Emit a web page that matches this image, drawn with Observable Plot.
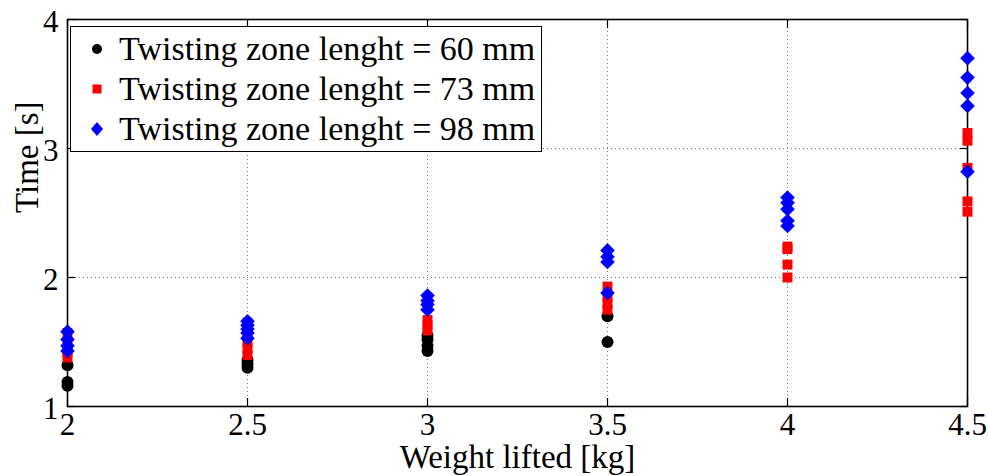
<!DOCTYPE html>
<html>
<head>
<meta charset="utf-8">
<script src="https://cdn.jsdelivr.net/npm/d3@7"></script>
<script src="https://cdn.jsdelivr.net/npm/@observablehq/plot@0.6"></script>
<style>
  html, body { margin: 0; padding: 0; background: white; }
  #wrap { position: relative; width: 988px; height: 476px; }
  #legend {
    position: absolute; left: 70px; top: 26px;
    background: white; border: 1px solid black;
    font-family: "Liberation Serif", "Times New Roman", serif;
    font-size: 34px; line-height: 40px; padding: 2px 6px 2px 0;
    box-sizing: border-box;
  }
  #legend .row { display: flex; align-items: center; white-space: nowrap; }
  #legend svg { width: 48px; height: 40px; flex: none; }
</style>
</head>
<body>
<div id="wrap"></div>
<script>
// ---- data ----
const seriesNames = ["Twisting zone lenght = 60 mm", "Twisting zone lenght = 73 mm", "Twisting zone lenght = 98 mm"];
const seriesColors = ["#000000", "#ff0000", "#0000ff"];
const seriesSymbols = ["circle", "square", "diamond2"];

const weights60 = [2, 2, 2, 2.5, 2.5, 2.5, 3, 3, 3, 3, 3.5, 3.5];
const times60   = [1.16, 1.19, 1.32, 1.30, 1.33, 1.36, 1.43, 1.47, 1.52, 1.55, 1.50, 1.70];

const weights73 = [2, 2, 2, 2, 2.5, 2.5, 2.5, 2.5, 2.5, 3, 3, 3, 3.5, 3.5, 3.5, 3.5, 4, 4, 4, 4, 4.5, 4.5, 4.5, 4.5, 4.5];
const times73   = [1.38, 1.42, 1.48, 1.57, 1.40, 1.45, 1.50, 1.55, 1.65, 1.59, 1.63, 1.67, 1.75, 1.80, 1.85, 1.93, 2.00, 2.10, 2.22, 2.24, 2.51, 2.59, 2.85, 3.06, 3.12];

const weights98 = [2, 2, 2, 2, 2.5, 2.5, 2.5, 2.5, 2.5, 3, 3, 3, 3, 3.5, 3.5, 3.5, 3.5, 4, 4, 4, 4, 4, 4.5, 4.5, 4.5, 4.5, 4.5];
const times98   = [1.43, 1.47, 1.52, 1.58, 1.53, 1.57, 1.60, 1.63, 1.66, 1.75, 1.79, 1.82, 1.86, 1.88, 2.12, 2.16, 2.21, 2.40, 2.44, 2.53, 2.58, 2.62, 2.82, 3.33, 3.43, 3.55, 3.70];

const xTicks = [2, 2.5, 3, 3.5, 4, 4.5];
const yTicks = [1, 2, 3, 4];
const xGrid = [2.5, 3, 3.5, 4];
const yGrid = [2, 3];
const xTitle = "Weight lifted [kg]";
const yTitle = "Time [s]";

// ---- build tables ----
const series = [[weights60, times60], [weights73, times73], [weights98, times98]].map(([ws, ts], s) =>
  ws.map((w, i) => ({series: seriesNames[s], w, t: ts[i]}))
);

const font = "Liberation Serif, Times New Roman, serif";
const radii = [6, 5.6, 6.6];

const chart = Plot.plot({
  width: 988, height: 476,
  marginLeft: 67, marginRight: 21, marginTop: 19, marginBottom: 70,
  style: {fontFamily: font, fontSize: "30px", background: "white", color: "black"},
  x: {domain: [2, 4.5]},
  y: {domain: [1, 4]},
  marks: [
    Plot.gridX(xGrid, {stroke: "#000", strokeOpacity: 0.55, strokeDasharray: "1,3", strokeWidth: 1}),
    Plot.gridY(yGrid, {stroke: "#000", strokeOpacity: 0.55, strokeDasharray: "1,3", strokeWidth: 1}),
    // inward ticks
    Plot.axisX(xTicks, {anchor: "bottom", tickSize: 8, dy: -8, text: null, label: null, stroke: "black", strokeWidth: 1.2}),
    Plot.axisX(xTicks, {anchor: "top", tickSize: 8, dy: 8, text: null, label: null, stroke: "black", strokeWidth: 1.2}),
    Plot.axisY(yTicks, {anchor: "left", tickSize: 8, dx: 8, text: null, label: null, stroke: "black", strokeWidth: 1.2}),
    Plot.axisY(yTicks, {anchor: "right", tickSize: 8, dx: -8, text: null, label: null, stroke: "black", strokeWidth: 1.2}),
    // tick labels
    Plot.axisX(xTicks, {anchor: "bottom", tickSize: 0, tickPadding: 6, label: null, fontSize: 31, tickFormat: d => String(d)}),
    Plot.axisY(yTicks, {anchor: "left", tickSize: 0, tickPadding: 9, dy: 3, label: null, fontSize: 31, tickFormat: d => String(d)}),
    Plot.frame({stroke: "black", strokeWidth: 1.6}),
    ...series.map((data, s) => Plot.dot(data, {x: "w", y: "t", fill: seriesColors[s], symbol: seriesSymbols[s], r: radii[s], stroke: "none"})),
    Plot.text([xTitle], {frameAnchor: "bottom", dy: 61, fontSize: 33, fill: "black"}),
    Plot.text([yTitle], {frameAnchor: "left", rotate: -90, dx: -40, fontSize: 33, fill: "black"})
  ]
});
const wrap = document.getElementById("wrap");
wrap.appendChild(chart);

// ---- legend (HTML overlay) ----
const legend = document.createElement("div");
legend.id = "legend";
const shapes = [
  '<circle cx="26" cy="20" r="5" fill="#000"/>',
  '<rect x="21.5" y="15.5" width="9" height="9" fill="#f00"/>',
  '<path d="M26,13 L32,20 L26,27 L20,20 Z" fill="#00f"/>'
];
seriesNames.forEach((name, i) => {
  const row = document.createElement("div");
  row.className = "row";
  row.innerHTML = `<svg viewBox="0 0 48 40">${shapes[i]}</svg><span>${name}</span>`;
  legend.appendChild(row);
});
wrap.appendChild(legend);
</script>
</body>
</html>
